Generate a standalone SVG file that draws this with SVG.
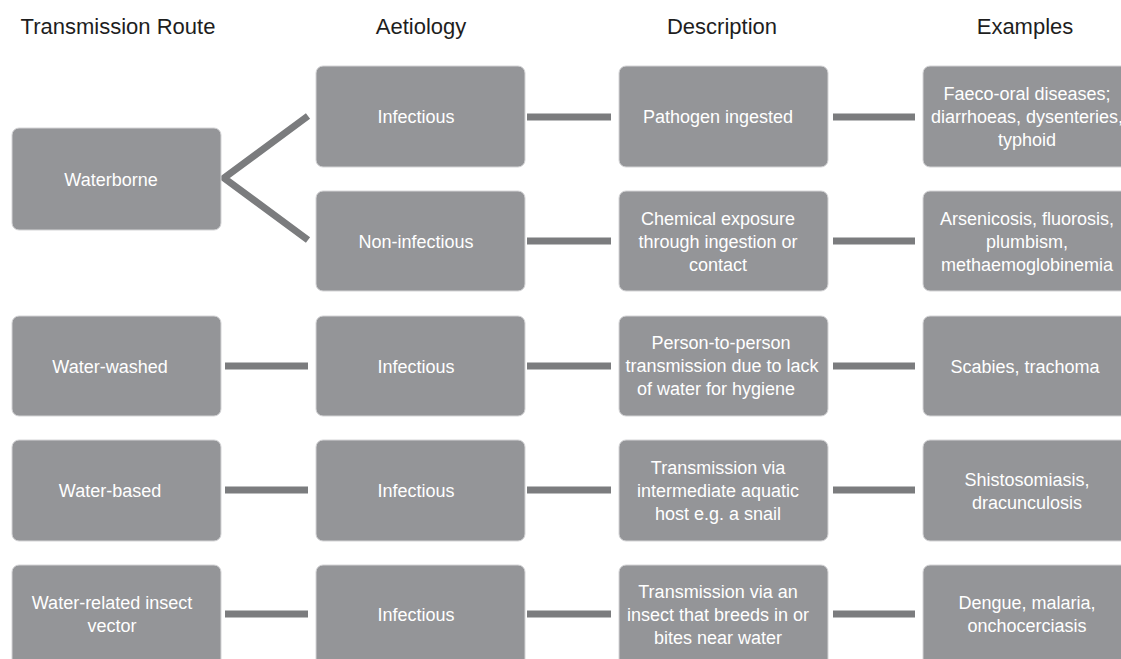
<svg xmlns="http://www.w3.org/2000/svg" width="1121" height="659" viewBox="0 0 1121 659">
<style>
.box{fill:#949598;stroke:#d4d4d6;stroke-width:1}
.t{font-family:"Liberation Sans",Arial,Helvetica,sans-serif;font-size:18px;fill:#ffffff;text-anchor:middle}
.h{font-family:"Liberation Sans",Arial,Helvetica,sans-serif;font-size:22px;fill:#1e1e1e;text-anchor:middle}
.c{stroke:#7b7c7e;stroke-width:7;fill:none}
</style>
<rect width="1121" height="659" fill="#ffffff"/>
<g id="headers">
<text class="h" x="118" y="34">Transmission Route</text>
<text class="h" x="421" y="34">Aetiology</text>
<text class="h" x="722" y="34">Description</text>
<text class="h" x="1025" y="34">Examples</text>
</g>
<g id="connectors">
<polyline class="c" points="308,116 224,178 308,240"/>
<line class="c" x1="527" y1="117" x2="611" y2="117"/>
<line class="c" x1="833" y1="117" x2="915" y2="117"/>
<line class="c" x1="527" y1="241" x2="611" y2="241"/>
<line class="c" x1="833" y1="241" x2="915" y2="241"/>
<line class="c" x1="225" y1="366" x2="308" y2="366"/>
<line class="c" x1="527" y1="366" x2="611" y2="366"/>
<line class="c" x1="833" y1="366" x2="915" y2="366"/>
<line class="c" x1="225" y1="490" x2="308" y2="490"/>
<line class="c" x1="527" y1="490" x2="611" y2="490"/>
<line class="c" x1="833" y1="490" x2="915" y2="490"/>
<line class="c" x1="225" y1="614" x2="308" y2="614"/>
<line class="c" x1="527" y1="614" x2="611" y2="614"/>
<line class="c" x1="833" y1="614" x2="915" y2="614"/>
</g>
<g id="waterborne"><rect class="box" x="12" y="128" width="209" height="102" rx="7"/><text class="t" x="111" y="185.5">Waterborne</text></g>
<g id="infectious1"><rect class="box" x="316" y="66" width="209" height="101" rx="7"/><text class="t" x="416" y="123">Infectious</text></g>
<g id="pathogen"><rect class="box" x="619" y="66" width="209" height="101" rx="7"/><text class="t" x="718" y="123">Pathogen ingested</text></g>
<g id="faeco"><rect class="box" x="923" y="66" width="210" height="101" rx="7"/><text class="t" x="1027" y="100">Faeco-oral diseases;</text><text class="t" x="1027" y="123">diarrhoeas, dysenteries,</text><text class="t" x="1027" y="146">typhoid</text></g>
<g id="noninfectious"><rect class="box" x="316" y="191" width="209" height="100" rx="7"/><text class="t" x="416" y="247.5">Non-infectious</text></g>
<g id="chemical"><rect class="box" x="619" y="191" width="209" height="100" rx="7"/><text class="t" x="718" y="224.5">Chemical exposure</text><text class="t" x="718" y="247.5">through ingestion or</text><text class="t" x="718" y="270.5">contact</text></g>
<g id="arsenicosis"><rect class="box" x="923" y="191" width="210" height="100" rx="7"/><text class="t" x="1027" y="224.5">Arsenicosis, fluorosis,</text><text class="t" x="1027" y="247.5">plumbism,</text><text class="t" x="1027" y="270.5">methaemoglobinemia</text></g>
<g id="waterwashed"><rect class="box" x="12" y="316" width="209" height="100" rx="7"/><text class="t" x="110" y="372.5">Water-washed</text></g>
<g id="infectious2"><rect class="box" x="316" y="316" width="209" height="100" rx="7"/><text class="t" x="416" y="372.5">Infectious</text></g>
<g id="person"><rect class="box" x="619" y="316" width="209" height="100" rx="7"/><text class="t" x="721" y="349">Person-to-person</text><text class="t" x="722" y="372">transmission due to lack</text><text class="t" x="716" y="395">of water for hygiene</text></g>
<g id="scabies"><rect class="box" x="923" y="316" width="210" height="100" rx="7"/><text class="t" x="1025" y="372.5">Scabies, trachoma</text></g>
<g id="waterbased"><rect class="box" x="12" y="440" width="209" height="101" rx="7"/><text class="t" x="110" y="497">Water-based</text></g>
<g id="infectious3"><rect class="box" x="316" y="440" width="209" height="101" rx="7"/><text class="t" x="416" y="497">Infectious</text></g>
<g id="intermediate"><rect class="box" x="619" y="440" width="209" height="101" rx="7"/><text class="t" x="718" y="474">Transmission via</text><text class="t" x="718" y="497">intermediate aquatic</text><text class="t" x="718" y="520">host e.g. a snail</text></g>
<g id="shisto"><rect class="box" x="923" y="440" width="210" height="101" rx="7"/><text class="t" x="1027" y="485.5">Shistosomiasis,</text><text class="t" x="1027" y="508.5">dracunculosis</text></g>
<g id="insect"><rect class="box" x="12" y="565" width="209" height="110" rx="7"/><text class="t" x="112" y="609">Water-related insect</text><text class="t" x="112" y="632">vector</text></g>
<g id="infectious4"><rect class="box" x="316" y="565" width="209" height="110" rx="7"/><text class="t" x="416" y="621">Infectious</text></g>
<g id="insectdesc"><rect class="box" x="619" y="565" width="209" height="110" rx="7"/><text class="t" x="718" y="598">Transmission via an</text><text class="t" x="718" y="621">insect that breeds in or</text><text class="t" x="718" y="644">bites near water</text></g>
<g id="dengue"><rect class="box" x="923" y="565" width="210" height="110" rx="7"/><text class="t" x="1027" y="609">Dengue, malaria,</text><text class="t" x="1027" y="632">onchocerciasis</text></g>
</svg>
